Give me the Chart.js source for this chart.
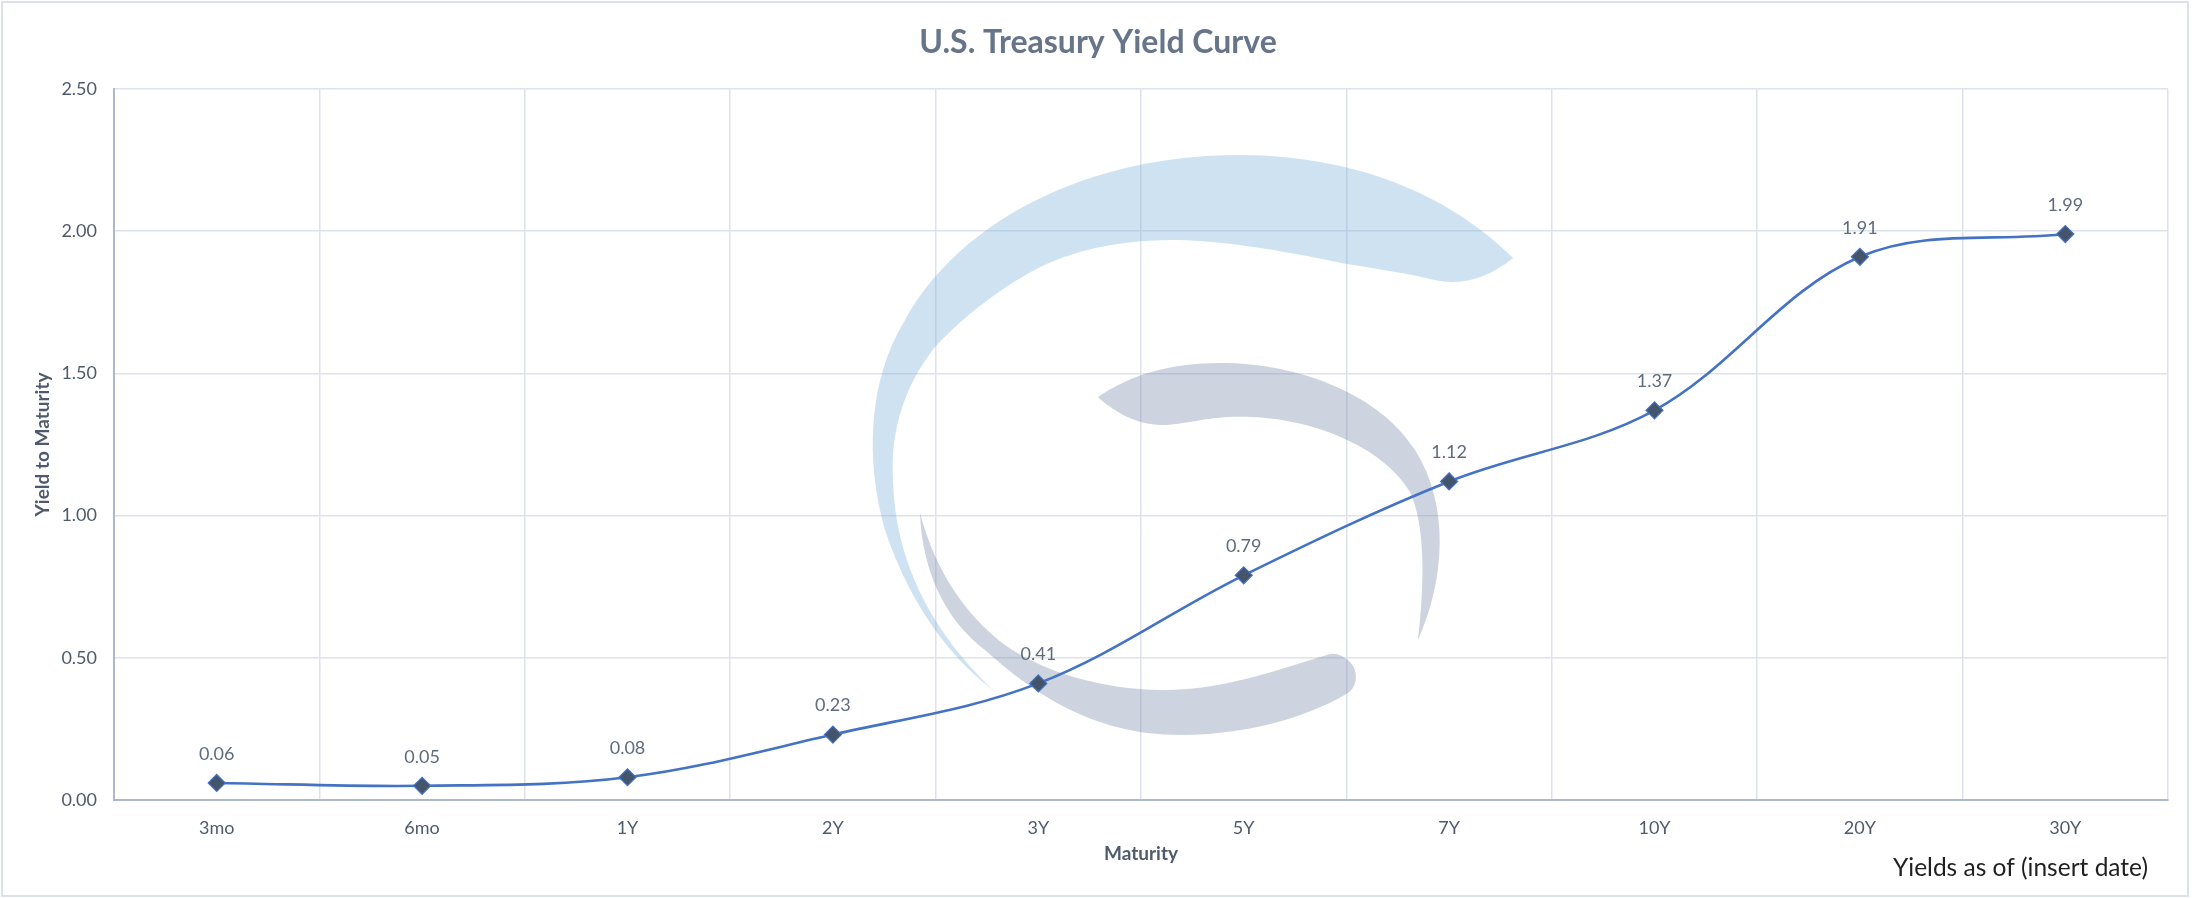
<!DOCTYPE html>
<html lang="en">
  <head>
    <meta charset="UTF-8" />
    <title>U.S. Treasury Yield Curve</title>
    <script src="https://cdn.jsdelivr.net/npm/chart.js@4.4.1/dist/chart.umd.min.js"></script>
    <style>
      html, body { margin: 0; padding: 0; background: #ffffff; }
      canvas { display: block; }
    </style>
  </head>
  <body>
    <canvas id="yieldChart" width="2196" height="898"></canvas>
  </body>
  <script>
    // maturities and yields
    const maturities = ["3mo", "6mo", "1Y", "2Y", "3Y", "5Y", "7Y", "10Y", "20Y", "30Y"];
    const yields = [0.06, 0.05, 0.08, 0.23, 0.41, 0.79, 1.12, 1.37, 1.91, 1.99];
    const yTicks = [0, 0.5, 1.0, 1.5, 2.0, 2.5];
    const chartTitle = "U.S. Treasury Yield Curve";
    const footNote = "Yields as of (insert date)";

    const FONT = "Lato, Carlito, Calibri, 'Open Sans', sans-serif";

    // faint logo behind the curve
    const watermark = {
      id: "watermark",
      beforeDatasetsDraw(chart) {
        const ctx = chart.ctx;
        ctx.save();
        // blue sweep
        ctx.fillStyle = "rgba(118,172,215,0.35)";
        ctx.beginPath();
        ctx.moveTo(993, 690);
        ctx.bezierCurveTo(940, 650, 905, 590, 885, 530);
        ctx.bezierCurveTo(865, 460, 868, 380, 905, 320);
        ctx.bezierCurveTo(960, 220, 1090, 155, 1238, 155);
        ctx.bezierCurveTo(1370, 155, 1460, 205, 1513, 258);
        ctx.bezierCurveTo(1480, 285, 1450, 285, 1426, 278);
        ctx.bezierCurveTo(1400, 272, 1370, 268, 1341, 263);
        ctx.bezierCurveTo(1280, 250, 1220, 240, 1171, 240);
        ctx.bezierCurveTo(1110, 240, 1060, 255, 1029, 273);
        ctx.bezierCurveTo(990, 295, 955, 325, 935, 347);
        ctx.bezierCurveTo(905, 385, 890, 430, 893, 480);
        ctx.bezierCurveTo(895, 560, 930, 630, 993, 690);
        ctx.closePath();
        ctx.fill();
        // grey upper hook
        ctx.fillStyle = "rgba(112,132,166,0.35)";
        ctx.beginPath();
        ctx.moveTo(1098, 397);
        ctx.bezierCurveTo(1130, 375, 1170, 363, 1220, 363);
        ctx.bezierCurveTo(1300, 363, 1380, 395, 1415, 450);
        ctx.bezierCurveTo(1450, 505, 1445, 580, 1418, 640);
        ctx.bezierCurveTo(1425, 580, 1425, 525, 1410, 492);
        ctx.bezierCurveTo(1385, 450, 1320, 420, 1252, 417);
        ctx.bezierCurveTo(1210, 415, 1185, 425, 1162, 425);
        ctx.bezierCurveTo(1135, 425, 1112, 410, 1098, 397);
        ctx.closePath();
        ctx.fill();
        // grey lower hook
        ctx.beginPath();
        ctx.moveTo(920, 513);
        ctx.bezierCurveTo(922, 570, 945, 620, 985, 650);
        ctx.bezierCurveTo(1030, 690, 1090, 735, 1180, 735);
        ctx.bezierCurveTo(1260, 735, 1320, 710, 1348, 693);
        ctx.bezierCurveTo(1360, 685, 1358, 665, 1345, 658);
        ctx.bezierCurveTo(1338, 653, 1332, 653, 1327, 655);
        ctx.bezierCurveTo(1290, 665, 1230, 690, 1163, 690);
        ctx.bezierCurveTo(1100, 690, 1040, 670, 1005, 645);
        ctx.bezierCurveTo(965, 615, 935, 570, 920, 513);
        ctx.closePath();
        ctx.fill();
        ctx.restore();
      },
    };

    // value labels above each marker, title, footnote and outer frame
    const extras = {
      id: "extras",
      afterDatasetsDraw(chart) {
        const ctx = chart.ctx;
        const meta = chart.getDatasetMeta(0);
        ctx.save();
        ctx.font = "18px " + FONT;
        ctx.fillStyle = "#5f6c7f";
        ctx.textAlign = "center";
        ctx.textBaseline = "middle";
        meta.data.forEach((pt, i) => {
          ctx.fillText(yields[i].toFixed(2), pt.x, pt.y - 29);
        });
        ctx.restore();
      },
      afterDraw(chart) {
        const ctx = chart.ctx;
        ctx.save();
        ctx.font = "bold 32px " + FONT;
        ctx.fillStyle = "#66758a";
        ctx.textAlign = "center";
        ctx.textBaseline = "middle";
        ctx.fillText(chartTitle, chart.width / 2, 43);
        ctx.font = "24.5px " + FONT;
        ctx.fillStyle = "#1f1f1f";
        ctx.textAlign = "right";
        ctx.fillText(footNote, 2148, 868);
        ctx.strokeStyle = "#dde2e9";
        ctx.lineWidth = 2;
        ctx.strokeRect(2, 2, 2186, 894);
        ctx.restore();
      },
    };

    const ctx = document.getElementById("yieldChart").getContext("2d");
    new Chart(ctx, {
      type: "line",
      data: {
        labels: maturities,
        datasets: [
          {
            label: "Yield",
            data: yields,
            borderColor: "#4472C4",
            borderWidth: 2.6,
            tension: 0.35,
            pointStyle: "rectRot",
            pointRadius: 8.5,
            pointBackgroundColor: "#44546A",
            pointBorderColor: "#4472C4",
            pointBorderWidth: 1.2,
            clip: false,
          },
        ],
      },
      options: {
        responsive: false,
        animation: false,
        devicePixelRatio: 1,
        layout: {padding: {left: 0, top: 89, right: 28, bottom: 0}},
        plugins: {
          legend: {display: false},
          tooltip: {enabled: false},
          title: {display: false},
        },
        scales: {
          x: {
            offset: true,
            grid: {offset: true, color: "#dde2eb", lineWidth: 1.5, drawTicks: false},
            border: {color: "#adb9ca", width: 2},
            ticks: {color: "#4f5b6c", padding: 17, font: {family: FONT, size: 18}},
            title: {
              display: true,
              text: "Maturity",
              color: "#4f5b6c",
              font: {family: FONT, size: 19, weight: "bold", lineHeight: 1.2},
              padding: {top: 0, bottom: 32.6},
            },
            afterFit(scale) {
              scale.height = 98;
            },
          },
          y: {
            min: 0,
            max: 2.5,
            afterBuildTicks(scale) {
              scale.ticks = yTicks.map((v) => ({value: v}));
            },
            grid: {color: "#dde2eb", lineWidth: 1.5, drawTicks: false},
            border: {color: "#adb9ca", width: 2},
            ticks: {
              color: "#4f5b6c",
              padding: 17,
              font: {family: FONT, size: 18},
              callback: (v) => Number(v).toFixed(2),
            },
            title: {
              display: true,
              text: "Yield to Maturity",
              color: "#4f5b6c",
              font: {family: FONT, size: 19, weight: "bold", lineHeight: 1.2},
              padding: {top: 31.6, bottom: 0},
            },
            afterFit(scale) {
              scale.width = 114;
            },
          },
        },
      },
      plugins: [watermark, extras],
    });
  </script>
</html>
